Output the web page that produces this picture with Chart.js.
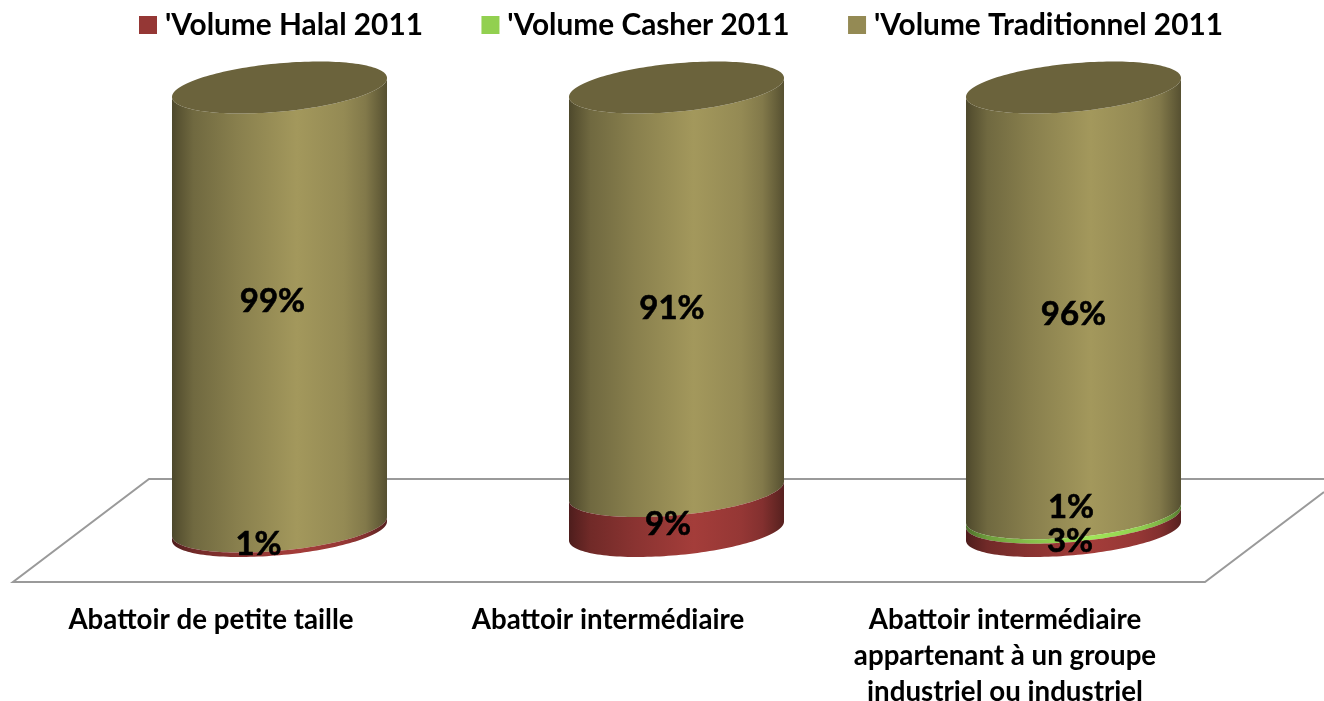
<!DOCTYPE html>
<html><head><meta charset="utf-8">
<style>html,body{margin:0;padding:0;background:#fff}#w{width:1324px;height:701px;position:relative}</style>
<script src="https://cdn.jsdelivr.net/npm/chart.js@4"></script></head>
<body><div id="w"><canvas id="c" width="1324" height="701"></canvas></div>
<script>
const categories = ["Abattoir de petite taille","Abattoir intermédiaire",["Abattoir intermédiaire","appartenant à un groupe","industriel ou industriel"]];
const seriesNames = ["'Volume Halal 2011","'Volume Casher 2011","'Volume Traditionnel 2011"];
const halal = [1,9,3];
const casher = [0,0,1];
const traditionnel = [99,91,96];
const colors = ["#953735","#92D050","#948A54"];
// label nudges relative to each segment centre
const labelNudge = [[[-21,16],[-8.5,13],[-3.5,17]],[[0,0],[0,0],[-2.5,-8.5]],[[-7,-6],[-4.5,19],[0,14]]];
const FONT='Lato, Carlito, sans-serif';
const SHEAR=19/215, EB=24.2;
const shadeStops=[[0,.52],[.03,.6],[.1,.76],[.3,.92],[.58,1.1],[.8,1],[.9,.88],[.96,.7],[1,.58]];
function shade(hex,f){const n=parseInt(hex.slice(1),16);const c=[n>>16,(n>>8)&255,n&255].map(v=>Math.min(255,Math.round(v*f)));return `rgb(${c})`;}
function pt(cx,cy,a,t){return [cx+a*Math.cos(t),cy+EB*Math.sin(t)-SHEAR*a*Math.cos(t)];}
const cylinders={id:'cylinders',
 afterUpdate(chart){const l=chart.legend,h0=l.legendHitBoxes[0],dx=139-h0.left,dy=10.1-h0.top;
  l.left+=dx;l.right+=dx;l.top+=dy;l.bottom+=dy;l.legendHitBoxes.forEach(h=>{h.left+=dx;h.top+=dy;});},
 beforeDatasetsDraw(chart){const c=chart.ctx,b=chart.chartArea.bottom;c.save();c.strokeStyle='#9a9a9a';c.lineWidth=2;c.beginPath();
  c.moveTo(1324,b-52);c.lineTo(149,b-52);c.lineTo(13,b+51);c.lineTo(1205,b+51);c.lineTo(1324,b-39);c.stroke();c.restore();},
 beforeDatasetDraw(chart,args){const c=chart.ctx,ds=args.index,meta=args.meta;
  meta.data.forEach((el,i)=>{const v=chart.data.datasets[ds].data[i];if(!v)return;
   const p=el.getProps(['x','y','base','width'],true),a=p.width/2,cx=p.x;
   const g=c.createLinearGradient(cx-a,0,cx+a,0);shadeStops.forEach(s=>g.addColorStop(s[0],shade(colors[ds],s[1])));
   c.save();c.fillStyle=g;c.beginPath();
   for(let k=0;k<=80;k++){const q=pt(cx,p.base,a,Math.PI*(1-k/80));k?c.lineTo(q[0],q[1]):c.moveTo(q[0],q[1]);}
   for(let k=0;k<=80;k++){const q=pt(cx,p.y,a,Math.PI*k/80);c.lineTo(q[0],q[1]);}
   c.closePath();c.fill();
   if(ds===chart.data.datasets.length-1){c.fillStyle=shade(colors[ds],.72);c.beginPath();
    for(let k=0;k<=160;k++){const q=pt(cx,p.y,a,2*Math.PI*k/160);k?c.lineTo(q[0],q[1]):c.moveTo(q[0],q[1]);}
    c.closePath();c.fill();}
   c.restore();});
  return false;},
 afterDatasetsDraw(chart){const c=chart.ctx;c.save();c.fillStyle='#000';c.strokeStyle='#000';c.lineWidth=.6;c.font='bold 33px '+FONT;c.textAlign='center';c.textBaseline='middle';
  chart.data.datasets.forEach((d,ds)=>{chart.getDatasetMeta(ds).data.forEach((el,i)=>{const v=d.data[i];if(!v)return;
   const n=labelNudge[ds][i],x=el.x+n[0],y=(el.y+el.base)/2+n[1];c.fillText(v+'%',x,y);c.strokeText(v+'%',x,y);});});c.restore();},
 afterDraw(chart){const c=chart.ctx,l=chart.legend;c.save();
  l.legendHitBoxes.forEach((h,i)=>{c.fillStyle=colors[i];c.fillRect(h.left,16,18,18);});
  c.restore();}
};
const mk=(i,d)=>({label:seriesNames[i],data:d,backgroundColor:colors[i],categoryPercentage:1,barPercentage:0.5416});
new Chart(document.getElementById('c'),{type:'bar',plugins:[cylinders],
 data:{labels:categories,datasets:[mk(0,halal),mk(1,casher),mk(2,traditionnel)]},
 options:{responsive:false,animation:false,
  layout:{padding:{left:0,right:52,top:-10.8,bottom:0}},
  plugins:{tooltip:{enabled:false},
   legend:{display:true,position:'top',labels:{color:'#000',font:{family:FONT,weight:'bold',size:29.8},boxWidth:11,boxHeight:18,padding:58.5,
    generateLabels(ch){return Chart.defaults.plugins.legend.labels.generateLabels(ch).map(x=>({...x,fillStyle:'rgba(0,0,0,0)',strokeStyle:'rgba(0,0,0,0)',lineWidth:0}));}}}},
  scales:{
   x:{stacked:true,grid:{display:false},border:{display:false},
      afterFit(s){s.height=170;},
      ticks:{autoSkip:false,maxRotation:0,minRotation:0,color:'#000',labelOffset:-68.5,padding:63,font:{family:FONT,weight:'bold',size:27.7,lineHeight:1.3}}},
   y:{stacked:true,display:true,min:0,max:100,grid:{display:false},border:{display:false},ticks:{display:false},afterFit(s){s.width=81;}}
  }}});
</script></body></html>
